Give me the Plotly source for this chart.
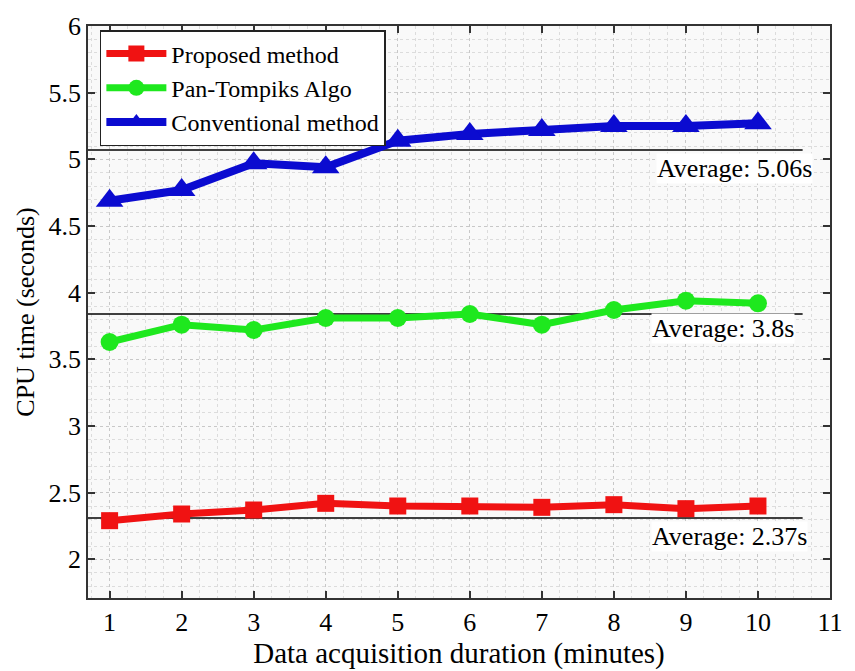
import plotly.graph_objects as go

minutes = [1, 2, 3, 4, 5, 6, 7, 8, 9, 10]
proposed = [2.29, 2.34, 2.37, 2.42, 2.40, 2.40, 2.39, 2.41, 2.38, 2.40]
pan_tompkins = [3.63, 3.76, 3.72, 3.81, 3.81, 3.84, 3.76, 3.87, 3.94, 3.92]
conventional = [4.69, 4.77, 4.97, 4.94, 5.14, 5.19, 5.22, 5.25, 5.25, 5.27]

series_names = ["Proposed method", "Pan-Tompiks Algo", "Conventional method"]
avg_line_levels = [2.31, 3.84, 5.07]
avg_labels = ["Average: 2.37s", "Average: 3.8s", "Average: 5.06s"]
avg_line_x = [0.7, 10.62]
avg_label_x = [10.69, 10.51, 10.76]
avg_label_y = [2.17, 3.73, 4.93]

x_ticks = [1, 2, 3, 4, 5, 6, 7, 8, 9, 10, 11]
y_ticks = [2, 2.5, 3, 3.5, 4, 4.5, 5, 5.5, 6]
y_tick_text = ["2", "2.5", "3", "3.5", "4", "4.5", "5", "5.5", "6"]

FONT = "Liberation Serif, Times New Roman, serif"

fig = go.Figure()

# average lines
for lvl in avg_line_levels:
    fig.add_trace(go.Scatter(x=avg_line_x, y=[lvl, lvl], mode="lines",
                             line=dict(color="black", width=1.5),
                             showlegend=False, hoverinfo="skip"))

fig.add_trace(go.Scatter(x=minutes, y=proposed, name=series_names[0],
                         mode="lines+markers",
                         line=dict(color="#f01212", width=7),
                         marker=dict(symbol="square", size=17, color="#f01212")))
fig.add_trace(go.Scatter(x=minutes, y=pan_tompkins, name=series_names[1],
                         mode="lines+markers",
                         line=dict(color="#1ee81e", width=7),
                         marker=dict(symbol="circle", size=18, color="#1ee81e")))
fig.add_trace(go.Scatter(x=minutes, y=conventional, name=series_names[2],
                         mode="lines+markers",
                         line=dict(color="#0b0bd0", width=8),
                         marker=dict(symbol="triangle-up", size=24, color="#0b0bd0")))

for txt, xx, yy in zip(avg_labels, avg_label_x, avg_label_y):
    fig.add_annotation(x=xx, y=yy, text=txt, showarrow=False,
                       xanchor="right", yanchor="middle",
                       font=dict(family=FONT, size=26, color="black"),
                       bgcolor="white", borderpad=0)

axis_common = dict(showline=True, linecolor="#333333", linewidth=1.5,
                   mirror="ticks", ticks="inside", ticklen=7,
                   tickcolor="#333333", tickwidth=1.5,
                   showgrid=True, gridcolor="#c8c8c8", griddash="dot", gridwidth=1,
                   zeroline=False,
                   tickfont=dict(family=FONT, size=26, color="black"))

fig.update_xaxes(range=[0.7, 11], tickvals=x_ticks,
                 minor=dict(dtick=0.25, showgrid=True, gridcolor="#dcdcdc",
                            griddash="dot", ticks=""),
                 title=dict(text="Data acquisition duration (minutes)",
                            font=dict(family=FONT, size=29, color="black"),
                            standoff=2),
                 **axis_common)
fig.update_yaxes(range=[1.71, 6], tickvals=y_ticks, ticktext=y_tick_text,
                 minor=dict(dtick=0.1, showgrid=True, gridcolor="#dcdcdc",
                            griddash="dot", ticks=""),
                 title=dict(text="CPU time (seconds)",
                            font=dict(family=FONT, size=26, color="black"),
                            standoff=6),
                 **axis_common)

fig.update_layout(
    width=855, height=671,
    margin=dict(l=88, r=23, t=20, b=65),
    paper_bgcolor="white", plot_bgcolor="#f9f9f9",
    legend=dict(x=0.016, y=0.993, xanchor="left", yanchor="top",
                bgcolor="white", bordercolor="#222222", borderwidth=1.5,
                font=dict(family=FONT, size=24, color="black"),
                itemwidth=60, tracegroupgap=0),
    showlegend=True,
)

fig.write_html("out.html")
